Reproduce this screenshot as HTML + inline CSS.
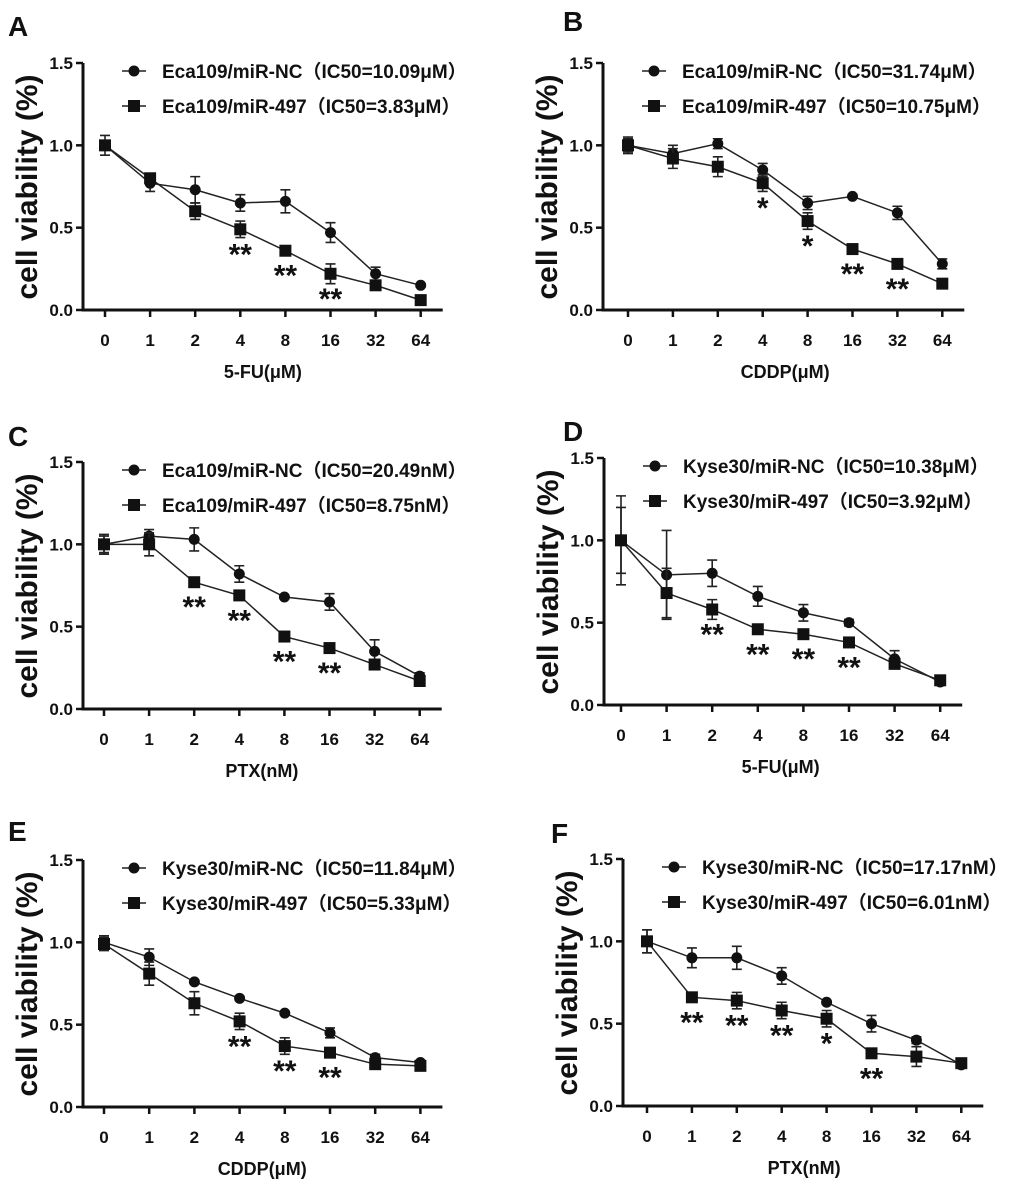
<!DOCTYPE html>
<html><head><meta charset="utf-8"><style>
body{margin:0;background:#fff}
svg text{font-family:"Liberation Sans","Noto Sans CJK SC",sans-serif;font-weight:bold;fill:#111}
</style></head><body>
<svg id="fig" width="1020" height="1183" viewBox="0 0 1020 1183" xmlns="http://www.w3.org/2000/svg"></svg>
<script>
const categories=["0","1","2","4","8","16","32","64"];
const yTicks=[0,0.5,1.0,1.5];
const yTickLabels=["0.0","0.5","1.0","1.5"];
const panelLetters=["A","B","C","D","E","F"];
const xTitles=["5-FU(μM)","CDDP(μM)","PTX(nM)","5-FU(μM)","CDDP(μM)","PTX(nM)"];
const ncLabels=["Eca109/miR-NC（IC50=10.09μM）","Eca109/miR-NC（IC50=31.74μM）","Eca109/miR-NC（IC50=20.49nM）","Kyse30/miR-NC（IC50=10.38μM）","Kyse30/miR-NC（IC50=11.84μM）","Kyse30/miR-NC（IC50=17.17nM）"];
const miLabels=["Eca109/miR-497（IC50=3.83μM）","Eca109/miR-497（IC50=10.75μM）","Eca109/miR-497（IC50=8.75nM）","Kyse30/miR-497（IC50=3.92μM）","Kyse30/miR-497（IC50=5.33μM）","Kyse30/miR-497（IC50=6.01nM）"];
const ncValues=[
[1.0,0.77,0.73,0.65,0.66,0.47,0.22,0.15],
[1.0,0.95,1.01,0.85,0.65,0.69,0.59,0.28],
[1.0,1.05,1.03,0.82,0.68,0.65,0.35,0.20],
[1.0,0.79,0.80,0.66,0.56,0.50,0.28,0.14],
[1.0,0.91,0.76,0.66,0.57,0.45,0.30,0.27],
[1.0,0.90,0.90,0.79,0.63,0.50,0.40,0.25]];
const ncErrors=[
[0.06,0.05,0.08,0.05,0.07,0.06,0.04,0.01],
[0.05,0.05,0.03,0.04,0.04,0.01,0.04,0.03],
[0.06,0.04,0.07,0.05,0.01,0.05,0.07,0.02],
[0.27,0.27,0.08,0.06,0.05,0.02,0.05,0.02],
[0.04,0.05,0.01,0.01,0.01,0.03,0.02,0.01],
[0.07,0.06,0.07,0.05,0.01,0.05,0.02,0.02]];
const miValues=[
[1.0,0.80,0.60,0.49,0.36,0.22,0.15,0.06],
[1.0,0.92,0.87,0.77,0.54,0.37,0.28,0.16],
[1.0,1.0,0.77,0.69,0.44,0.37,0.27,0.17],
[1.0,0.68,0.58,0.46,0.43,0.38,0.25,0.15],
[0.99,0.81,0.63,0.52,0.37,0.33,0.26,0.25],
[1.0,0.66,0.64,0.58,0.53,0.32,0.30,0.26]];
const miErrors=[
[0.03,0.02,0.05,0.05,0.02,0.06,0.01,0.01],
[0.04,0.06,0.06,0.05,0.05,0.02,0.02,0.01],
[0.05,0.07,0.01,0.03,0.01,0.01,0.01,0.02],
[0.2,0.15,0.06,0.02,0.02,0.02,0.03,0.02],
[0.04,0.07,0.07,0.05,0.05,0.02,0.02,0.01],
[0.07,0.03,0.05,0.05,0.05,0.01,0.06,0.02]];
const stars=[
["","","","**","**","**","",""],
["","","","*","*","**","**",""],
["","","**","**","**","**","",""],
["","","**","**","**","**","",""],
["","","","**","**","**","",""],
["","**","**","**","*","**","",""]];
// layout only
const layouts=[
{ax:83,y0:310,x0:105,dx:45.1,lx:8,ly:36},
{ax:603,y0:310,x0:628,dx:44.9,lx:563,ly:31},
{ax:83,y0:709,x0:104,dx:45.1,lx:8,ly:446},
{ax:604,y0:705,x0:621,dx:45.6,lx:563,ly:441},
{ax:83,y0:1107,x0:104,dx:45.2,lx:8,ly:841},
{ax:623,y0:1106,x0:647,dx:44.9,lx:551,ly:843}];
const H=247;
const NS="http://www.w3.org/2000/svg";
const svg=document.getElementById('fig');
function mk(tag,attrs,parent,txt){const e=document.createElementNS(NS,tag);for(const k in attrs)e.setAttribute(k,attrs[k]);if(txt!==undefined)e.textContent=txt;parent.appendChild(e);return e;}
layouts.forEach((L,p)=>{
  const g=mk('g',{},svg);
  
  
  const yS=v=>L.y0-v/1.5*H;
  const xS=i=>L.x0+i*L.dx;
  const lt=mk('text',{x:L.lx,y:L.ly,'font-size':28},g,panelLetters[p]);
  
  
  const ya=mk('line',{x1:L.ax,y1:yS(1.5),x2:L.ax,y2:L.y0+1.5,stroke:'#111','stroke-width':3},g);
  
  
  const xa=mk('line',{x1:L.ax-1.5,y1:L.y0,x2:xS(7)+22,y2:L.y0,stroke:'#111','stroke-width':3},g);
  
  
  yTicks.forEach((t,i)=>{
    mk('line',{x1:L.ax-7,y1:yS(t),x2:L.ax,y2:yS(t),stroke:'#111','stroke-width':2.5},g);
    const tl=mk('text',{x:L.ax-10,y:yS(t)+6,'font-size':17,'text-anchor':'end'},g,yTickLabels[i]);
    
    
  });
  categories.forEach((c,i)=>{
    mk('line',{x1:xS(i),y1:L.y0,x2:xS(i),y2:L.y0+7,stroke:'#111','stroke-width':2.5},g);
    const tl=mk('text',{x:xS(i),y:L.y0+36,'font-size':17,'text-anchor':'middle'},g,c);
    
    
  });
  const xt=mk('text',{x:(L.x0+xS(7))/2,y:L.y0+68,'font-size':18,'text-anchor':'middle'},g,xTitles[p]);
  
  
  const cy=L.y0-123;
  const yt=mk('text',{x:L.ax-46,y:cy,'font-size':30,'text-anchor':'middle',transform:`rotate(-90 ${L.ax-46} ${cy})`},g,'cell viability (%)');
  
  
  [[ncValues[p],ncErrors[p],'circle','nc'],[miValues[p],miErrors[p],'square','mir497']].forEach(([vals,errs,shape,nm])=>{
    const pts=vals.map((v,i)=>xS(i)+','+yS(v)).join(' ');
    const pl=mk('polyline',{points:pts,fill:'none',stroke:'#222','stroke-width':1.5},g);
    
    
    vals.forEach((v,i)=>{
      const x=xS(i),y=yS(v),e=errs[i]/1.5*H;
      const eb=mk('path',{d:`M${x},${y-e}V${y+e}M${x-5},${y-e}H${x+5}M${x-5},${y+e}H${x+5}`,stroke:'#222','stroke-width':1.6,fill:'none'},g);
      
      
      let m;
      if(shape==='circle') m=mk('circle',{cx:x,cy:y,r:5.5,fill:'#111'},g);
      else m=mk('rect',{x:x-6,y:y-6,width:12,height:12,fill:'#111'},g);
      
      
    });
  });
  stars[p].forEach((s,i)=>{
    if(!s)return;
    const st=mk('text',{x:xS(i),y:yS(miValues[p][i])+35,'font-size':30,'text-anchor':'middle'},g,s);
    
    
  });
  const lgX=L.ax+39, lgY1=yS(1.5)+8, lgY2=lgY1+35;
  const l1=mk('g',{},g);
  
  
  mk('line',{x1:lgX,y1:lgY1,x2:lgX+24,y2:lgY1,stroke:'#222','stroke-width':1.5},l1);
  mk('circle',{cx:lgX+12,cy:lgY1,r:5.5,fill:'#111'},l1);
  mk('text',{x:lgX+40,y:lgY1+7,'font-size':19},l1,ncLabels[p]);
  const l2=mk('g',{},g);
  
  
  mk('line',{x1:lgX,y1:lgY2,x2:lgX+24,y2:lgY2,stroke:'#222','stroke-width':1.5},l2);
  mk('rect',{x:lgX+6,y:lgY2-6,width:12,height:12,fill:'#111'},l2);
  mk('text',{x:lgX+40,y:lgY2+7,'font-size':19},l2,miLabels[p]);
});
</script>
</body></html>
